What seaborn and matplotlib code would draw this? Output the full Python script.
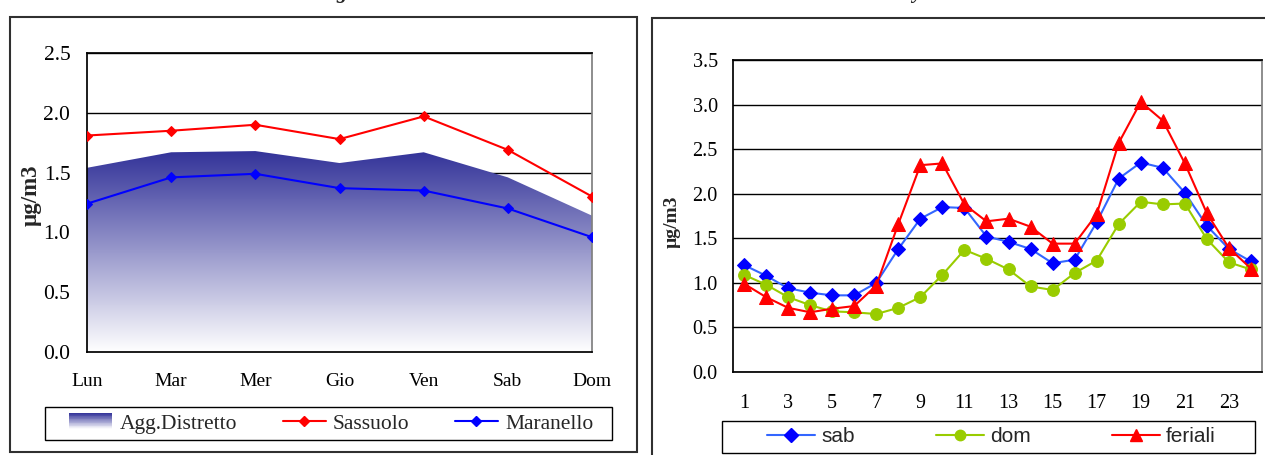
import numpy as np
import matplotlib
matplotlib.use("Agg")
import matplotlib.pyplot as plt
import seaborn as sns
from matplotlib.colors import LinearSegmentedColormap
from matplotlib.patches import Rectangle, PathPatch
from matplotlib.legend_handler import HandlerBase
from matplotlib.lines import Line2D

# dati settimanali (µg/m3)
giorni = ["Lun", "Mar", "Mer", "Gio", "Ven", "Sab", "Dom"]
agg_distretto = [1.54, 1.67, 1.68, 1.58, 1.67, 1.46, 1.14]
sassuolo = [1.81, 1.85, 1.90, 1.78, 1.97, 1.69, 1.30]
maranello = [1.24, 1.46, 1.49, 1.37, 1.35, 1.20, 0.96]

# dati orari (µg/m3)
ore = list(range(1, 25))
sab = [1.20, 1.08, 0.94, 0.89, 0.86, 0.86, 1.00, 1.38, 1.72, 1.85, 1.84, 1.52,
       1.46, 1.38, 1.22, 1.26, 1.68, 2.17, 2.35, 2.29, 2.01, 1.64, 1.38, 1.24]
dom = [1.09, 0.98, 0.84, 0.75, 0.68, 0.67, 0.65, 0.72, 0.84, 1.09, 1.37, 1.27,
       1.15, 0.96, 0.92, 1.11, 1.25, 1.66, 1.91, 1.88, 1.89, 1.49, 1.23, 1.15]
feriali = [0.99, 0.84, 0.72, 0.67, 0.71, 0.74, 0.97, 1.66, 2.32, 2.34, 1.88, 1.69,
           1.72, 1.63, 1.44, 1.44, 1.77, 2.57, 3.03, 2.82, 2.34, 1.78, 1.39, 1.16]

sns.set_theme(style="white")
plt.rcParams["font.family"] = ["Liberation Serif", "DejaVu Serif"]
plt.rcParams["axes.edgecolor"] = "black"

W, H = 1265, 455
fig = plt.figure(figsize=(W / 100, H / 100), dpi=100)

def fx(px):
    return px / W

def fy(py):
    return 1 - py / H

def box(x0, y0, x1, y1, lw=1.0, color="black"):
    # rettangolo in pixel dell'immagine (origine in alto a sinistra)
    fig.patches.append(Rectangle((fx(x0), fy(y1)), fx(x1 - x0), (y1 - y0) / H, fill=False,
                                 lw=lw, edgecolor=color, transform=fig.transFigure))

NAVY = "#333399"
grad_cmap = LinearSegmentedColormap.from_list("grad", ["#ffffff", NAVY])


class GradientHandler(HandlerBase):
    def create_artists(self, legend, orig_handle, xdescent, ydescent,
                       width, height, fontsize, trans):
        n = 20
        arts = []
        for i in range(n):
            c = grad_cmap((i + 0.5) / n)
            r = Rectangle((-xdescent, -ydescent + height * i / n), width, height / n + 0.3,
                          facecolor=c, edgecolor="none", transform=trans)
            arts.append(r)
        return arts


# cornici esterne
box(10, 17, 637, 452, lw=1.5, color="#303030")
box(652, 18, 1300, 480, lw=1.5, color="#303030")

# titoli tagliati in alto
fig.text(fx(336), 1 + 2 / H, "g", fontsize=15, fontweight="bold", fontstyle="italic",
         va="baseline", ha="left")
fig.text(fx(912), 1 + 2 / H, "y", fontsize=15, fontweight="bold", fontstyle="italic",
         va="baseline", ha="left")

# ---------------- grafico settimanale ----------------
ax1 = fig.add_axes([fx(87), fy(352), fx(505), 299 / H])
x1 = np.arange(len(giorni))
ax1.set_axisbelow(True)
ax1.yaxis.grid(True, color="black", lw=1, zorder=0)

poly = ax1.fill_between(x1, agg_distretto, 0, color="none", lw=0)
top = max(agg_distretto)
grad = np.linspace(0, 1, 256).reshape(-1, 1)
im = ax1.imshow(grad, extent=[0, 6, 0, top], origin="lower", aspect="auto",
                cmap=grad_cmap, zorder=1, interpolation="bilinear")
clip = PathPatch(poly.get_paths()[0], transform=ax1.transData, facecolor="none", edgecolor="none")
ax1.add_patch(clip)
im.set_clip_path(clip)

sns.lineplot(x=x1, y=sassuolo, ax=ax1, color="#ff0000", lw=1.5, marker="D",
             markersize=5.5, markeredgecolor="#ff0000", legend=False, zorder=3)
sns.lineplot(x=x1, y=maranello, ax=ax1, color="#0000ff", lw=1.5, marker="D",
             markersize=5.5, markeredgecolor="#0000ff", legend=False, zorder=3)

ax1.set_xlim(0, 6)
ax1.set_ylim(0, 2.5)
ax1.set_xticks(x1)
ax1.set_xticklabels(giorni)
ax1.set_yticks(np.arange(0, 2.51, 0.5))
ax1.set_yticklabels([f"{v:.1f}" for v in np.arange(0, 2.51, 0.5)])
ax1.tick_params(axis="y", direction="out", length=5, width=1, colors="black",
                labelsize=15.5, pad=7)
ax1.tick_params(axis="x", direction="out", length=5, width=1, colors="black",
                labelsize=14, pad=10)
ax1.spines["right"].set_color("#808080")
for s in ["left", "bottom", "top"]:
    ax1.spines[s].set_color("black")
ax1.set_xlabel("")
ax1.set_ylabel("")
fig.text(fx(31), fy(195), "µg/m3", rotation=90, fontsize=16.5, fontweight="bold",
         ha="center", va="center")

h_area = Rectangle((0, 0), 1, 1)
h_sas = Line2D([], [], color="#ff0000", lw=1.5, marker="D", markersize=5)
h_mar = Line2D([], [], color="#0000ff", lw=1.5, marker="D", markersize=5)
fig.legend([h_area, h_sas, h_mar], ["Agg.Distretto", "Sassuolo", "Maranello"],
           handler_map={Rectangle: GradientHandler()},
           loc="center", bbox_to_anchor=(fx(331.5), fy(423.5)), ncol=3,
           fontsize=15.5, frameon=False, handlelength=2.0, handletextpad=0.35,
           columnspacing=2.1, borderpad=0.2)
box(45, 407, 612, 440)

# ---------------- grafico orario ----------------
ax2 = fig.add_axes([fx(733), fy(372), fx(529), 312 / H])
ax2.set_axisbelow(True)
ax2.yaxis.grid(True, color="black", lw=1, zorder=0)

sns.lineplot(x=ore, y=sab, ax=ax2, color="#3366ff", lw=1.5, marker="D", markersize=7.5,
             markerfacecolor="#0000ff", markeredgecolor="#0000ff", legend=False, zorder=3)
sns.lineplot(x=ore, y=dom, ax=ax2, color="#99cc00", lw=1.5, marker="o", markersize=8.5,
             markerfacecolor="#99cc00", markeredgecolor="#99cc00", legend=False, zorder=3)
sns.lineplot(x=ore, y=feriali, ax=ax2, color="#ff0000", lw=1.5, marker="^", markersize=10,
             markerfacecolor="#ff0000", markeredgecolor="#ff0000", legend=False, zorder=4)

ax2.set_xlim(0.5, 24.5)
ax2.set_ylim(0, 3.5)
ax2.set_xticks(ore[::2])
ax2.set_xticklabels([str(h) for h in ore[::2]])
ax2.set_xticks(np.arange(0.5, 24.6, 1), minor=True)
ax2.set_yticks(np.arange(0, 3.51, 0.5))
ax2.set_yticklabels([f"{v:.1f}" for v in np.arange(0, 3.51, 0.5)])
ax2.tick_params(axis="x", which="major", length=0, pad=16, labelsize=14.5, colors="black")
ax2.tick_params(axis="x", which="minor", direction="out", length=5, width=1, color="black")
ax2.tick_params(axis="y", direction="out", length=5, width=1, labelsize=14.5,
                colors="black", pad=6)
ax2.spines["right"].set_color("#808080")
for s in ["left", "bottom", "top"]:
    ax2.spines[s].set_color("black")
ax2.set_xlabel("")
ax2.set_ylabel("")
fig.text(fx(672), fy(222), "µg/m3", rotation=90, fontsize=14, fontweight="bold",
         ha="center", va="center")

h_sab = Line2D([], [], color="#3366ff", lw=1.5, marker="D", markersize=7,
               markerfacecolor="#0000ff", markeredgecolor="#0000ff")
h_dom = Line2D([], [], color="#99cc00", lw=1.5, marker="o", markersize=7.5)
h_fer = Line2D([], [], color="#ff0000", lw=1.5, marker="^", markersize=9)
fig.legend([h_sab, h_dom, h_fer], ["sab", "dom", "feriali"],
           loc="center", bbox_to_anchor=(fx(991.5), fy(437)), ncol=3,
           prop={"family": ["Liberation Sans", "DejaVu Sans"], "size": 15},
           frameon=False, handlelength=2.3, handletextpad=0.3, columnspacing=3.9,
           borderpad=0.2)
box(722, 421, 1255, 453)

fig.savefig("out.png", dpi=100)
